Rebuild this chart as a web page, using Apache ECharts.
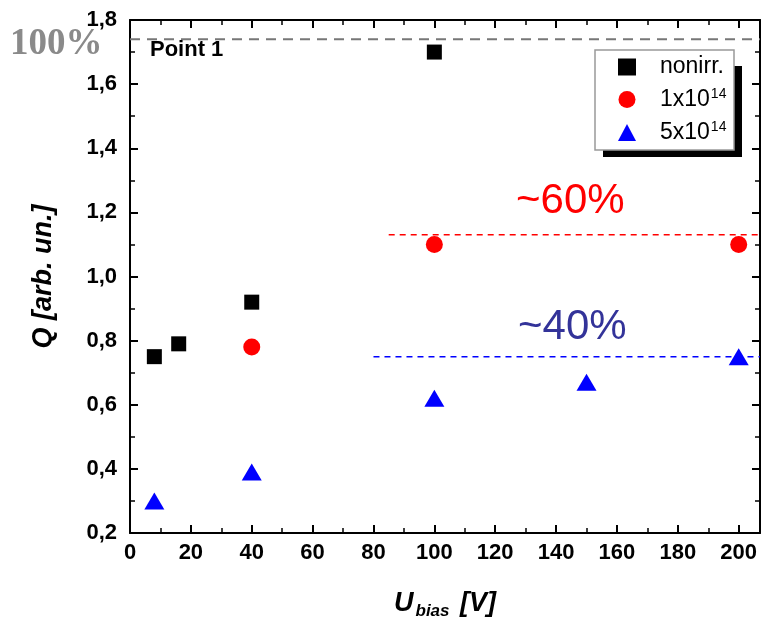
<!DOCTYPE html>
<html>
<head>
<meta charset="utf-8">
<script src="https://cdn.jsdelivr.net/npm/echarts@6/dist/echarts.min.js"></script>
<style>
  html, body { margin: 0; padding: 0; background: #fff; }
  #chart { width: 762px; height: 625px; }
</style>
</head>
<body>
<div id="chart"></div>
<script>
// Collected charge vs. bias voltage for three fluences
const nonirrU = [8, 16, 40, 100];
const nonirrQ = [0.75, 0.79, 0.92, 1.70];

const fluence1U = [40, 100, 200];
const fluence1Q = [0.78, 1.10, 1.10];

const fluence5U = [8, 40, 100, 150, 200];
const fluence5Q = [0.30, 0.39, 0.62, 0.67, 0.75];

// Reference levels: full charge (100%), ~60% and ~40%
const levelFull = { from: 0, to: 207, q: 1.74 };
const level60 = { from: 85, to: 207, q: 1.13 };
const level40 = { from: 80, to: 207, q: 0.75 };

const seriesNames = ['nonirr.', '1x10^14', '5x10^14'];

const xMin = 0, xMax = 207, xStep = 20;
const yMin = 0.2, yMax = 1.8, yStep = 0.2;

const pairs = (xs, ys) => xs.map((x, i) => [x, ys[i]]);
const levelLine = (l) => [[l.from, l.q], [l.to, l.q]];

const SANS = '"Liberation Sans", Arial, sans-serif';
const tickFont = { fontFamily: SANS, fontWeight: 'bold', fontSize: 22, color: '#000' };

const chart = echarts.init(document.getElementById('chart'), null, { renderer: 'canvas' });

const axisCommon = {
  type: 'value',
  axisLine: { show: true, onZero: false, lineStyle: { color: '#000', width: 2 } },
  axisTick: { show: true, inside: true, length: 8, lineStyle: { color: '#000', width: 2 } },
  minorTick: { show: true, splitNumber: 2, length: 5, lineStyle: { color: '#000', width: 1.5 } },
  splitLine: { show: false }
};

const titleRich = {
  u: { fontFamily: SANS, fontWeight: 'bold', fontStyle: 'italic', fontSize: 27, color: '#000' },
  sub: { fontFamily: SANS, fontWeight: 'bold', fontStyle: 'italic', fontSize: 17, color: '#000', padding: [16, 3, 0, 2] }
};

chart.setOption({
  animation: false,
  backgroundColor: '#fff',
  grid: { left: 130, right: 2, top: 20, bottom: 92 },
  legend: {
    data: seriesNames,
    orient: 'vertical',
    left: 618, top: 55,
    z: 30,
    padding: 0,
    itemWidth: 18, itemHeight: 17,
    itemGap: 8,
    backgroundColor: 'transparent',
    borderWidth: 0,
    textStyle: {
      fontFamily: SANS, fontSize: 23, color: '#000', lineHeight: 24,
      padding: [0, 0, 0, 19],
      rich: {
        base: { fontFamily: SANS, fontSize: 23, color: '#000', lineHeight: 24 },
        sup: { fontFamily: SANS, fontSize: 14, color: '#000', lineHeight: 24, padding: [0, 0, 11, 1] }
      }
    },
    formatter: (name) => {
      const p = name.split('^');
      return p.length > 1 ? '{base|' + p[0] + '}{sup|' + p[1] + '}' : '{base|' + name + '}';
    }
  },
  xAxis: [
    Object.assign({}, axisCommon, {
      position: 'bottom', min: xMin, max: xMax, interval: xStep,
      axisLabel: Object.assign({}, tickFont, { margin: 9, showMaxLabel: false }),
      name: '{u|U}{sub|bias}{u| [V]}',
      nameLocation: 'middle', nameGap: 54,
      nameTextStyle: { rich: titleRich }
    }),
    Object.assign({}, axisCommon, {
      position: 'top', min: xMin, max: xMax, interval: xStep,
      axisLabel: { show: false }
    })
  ],
  yAxis: [
    Object.assign({}, axisCommon, {
      position: 'left', min: yMin, max: yMax, interval: yStep,
      axisLabel: Object.assign({}, tickFont, {
        margin: 13,
        formatter: (v) => v.toFixed(1).replace('.', ',')
      }),
      name: 'Q [arb. un.]',
      nameLocation: 'middle', nameGap: 73, nameRotate: 90,
      nameTextStyle: { fontFamily: SANS, fontWeight: 'bold', fontStyle: 'italic', fontSize: 27, color: '#000' }
    }),
    Object.assign({}, axisCommon, {
      position: 'right', min: yMin, max: yMax, interval: yStep,
      axisLabel: { show: false }
    })
  ],
  series: [
    {
      name: 'full', type: 'line', data: levelLine(levelFull), symbol: 'none', silent: true,
      lineStyle: { color: '#777', width: 2, type: [10, 7] }, z: 1
    },
    {
      name: 'lvl60', type: 'line', data: levelLine(level60), symbol: 'none', silent: true,
      lineStyle: { color: '#ff0000', width: 1.5, type: [6, 5] }, z: 1
    },
    {
      name: 'lvl40', type: 'line', data: levelLine(level40), symbol: 'none', silent: true,
      lineStyle: { color: '#0000ff', width: 1.5, type: [6, 5] }, z: 1
    },
    {
      name: seriesNames[0], type: 'scatter', data: pairs(nonirrU, nonirrQ),
      symbol: 'rect', symbolSize: 15, itemStyle: { color: '#000', opacity: 1 }, z: 5
    },
    {
      name: seriesNames[1], type: 'scatter', data: pairs(fluence1U, fluence1Q),
      symbol: 'circle', symbolSize: 17, itemStyle: { color: '#ff0000', opacity: 1 }, z: 5
    },
    {
      name: seriesNames[2], type: 'scatter', data: pairs(fluence5U, fluence5Q),
      symbol: 'triangle', symbolSize: [20, 17], itemStyle: { color: '#0000ff', opacity: 1 }, z: 5
    }
  ],
  graphic: [
    // legend frame with solid drop shadow
    { type: 'rect', shape: { x: 603, y: 66, width: 139, height: 91 }, style: { fill: '#000' }, z: 8 },
    { type: 'rect', shape: { x: 595, y: 50, width: 139, height: 100 }, style: { fill: '#fff', stroke: '#999', lineWidth: 1.5 }, z: 9 },
    { type: 'text', x: 10, y: 44, z: 20,
      style: { text: '100%', font: 'bold 37px "Liberation Serif", "DejaVu Serif", serif', fill: '#8a8a8a', textVerticalAlign: 'middle' } },
    { type: 'text', x: 150, y: 50, z: 20,
      style: { text: 'Point 1', font: 'bold 22px "Liberation Sans", Arial, sans-serif', fill: '#000', textVerticalAlign: 'middle' } },
    { type: 'text', x: 516, y: 201, z: 20,
      style: { text: '~60%', font: '42px "Liberation Sans", Arial, sans-serif', fill: '#ff0000', textVerticalAlign: 'middle' } },
    { type: 'text', x: 518, y: 327, z: 20,
      style: { text: '~40%', font: '42px "Liberation Sans", Arial, sans-serif', fill: '#333399', textVerticalAlign: 'middle' } }
  ]
});
</script>
</body>
</html>
